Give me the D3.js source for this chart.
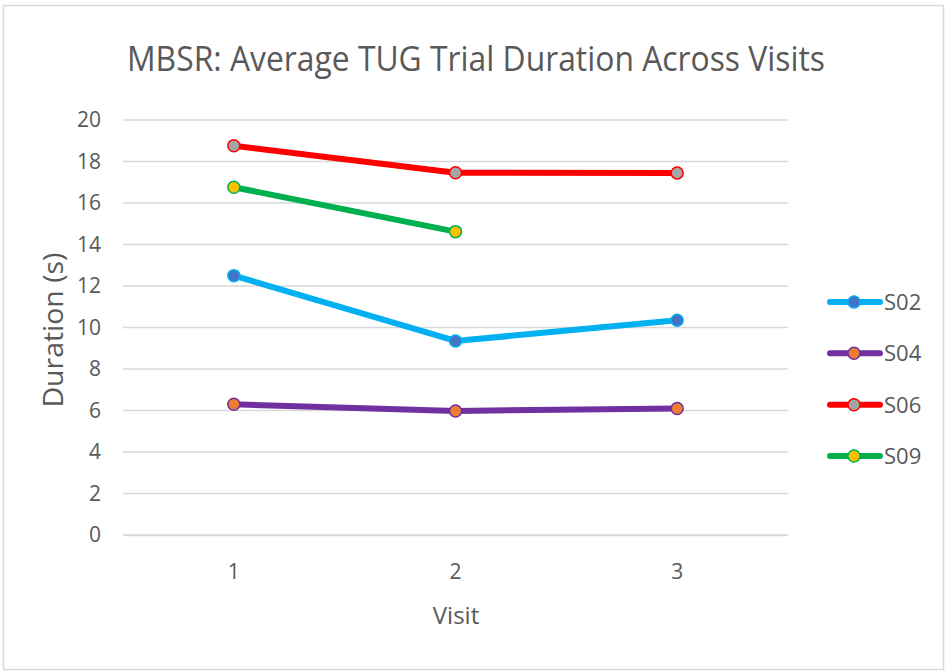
<!DOCTYPE html>
<html><head><meta charset="utf-8">
<script src="https://cdn.jsdelivr.net/npm/d3@7"></script>
<style>body{margin:0;background:#fff;}svg{display:block;font-family:"Open Sans",sans-serif;}</style>
</head><body><svg id="c" width="947" height="672"></svg>
<script>
const visits = ["1", "2", "3"];
const yTicks = [0, 2, 4, 6, 8, 10, 12, 14, 16, 18, 20];
const seriesNames = ["S02", "S04", "S06", "S09"];
const s02 = [12.5, 9.35, 10.35];
const s04 = [6.3, 5.98, 6.1];
const s06 = [18.76, 17.46, 17.45];
const s09 = [16.76, 14.62, null];
const lineColors = ["#00B0F0", "#7030A0", "#FF0000", "#00B050"];
const markerColors = ["#4472C4", "#ED7D31", "#A5A5A5", "#FFC000"];

const series = [s02, s04, s06, s09].map((vals, i) => ({
  name: seriesNames[i], line: lineColors[i], marker: markerColors[i],
  pts: vals.map((v, j) => ({x: visits[j], y: v})).filter(d => d.y != null)
}));

const svg = d3.select("#c");
svg.append("rect").attr("x", 3.5).attr("y", 5.5).attr("width", 940).attr("height", 664)
  .attr("fill", "#fff").attr("stroke", "#d9d9d9").attr("stroke-width", 1.5);

const x = d3.scaleBand().domain(visits).range([123, 788]);
const y = d3.scaleLinear().domain([0, 20]).range([535, 120]);

const grid = svg.append("g");
grid.selectAll("line").data(yTicks).join("line")
  .attr("x1", 123).attr("x2", 788)
  .attr("y1", d => y(d)).attr("y2", d => y(d))
  .attr("stroke", "#d9d9d9").attr("stroke-width", 1.5);

const yAxis = svg.append("g").attr("transform", "translate(123,0)")
  .call(d3.axisLeft(y).tickValues(yTicks).tickSize(0).tickPadding(22));
yAxis.select(".domain").remove();
yAxis.selectAll("text").attr("fill", "#595959").style("font-size", "21px").style("font-family", "Open Sans");

const xAxis = svg.append("g").attr("transform", "translate(0,535)")
  .call(d3.axisBottom(x).tickSize(0).tickPadding(29));
xAxis.select(".domain").attr("stroke", "#d9d9d9").attr("stroke-width", 1.5);
xAxis.selectAll("text").attr("fill", "#595959").style("font-size", "21px").style("font-family", "Open Sans");

const line = d3.line().x(d => x(d.x) + x.bandwidth() / 2).y(d => y(d.y));
series.forEach(s => {
  svg.append("path").datum(s.pts).attr("d", line).attr("fill", "none")
    .attr("stroke", s.line).attr("stroke-width", 6).attr("stroke-linejoin", "round");
  svg.selectAll(null).data(s.pts).join("circle")
    .attr("cx", d => x(d.x) + x.bandwidth() / 2).attr("cy", d => y(d.y)).attr("r", 6)
    .attr("fill", s.marker).attr("stroke", s.line).attr("stroke-width", 1.5);
});

svg.append("text").attr("x", 476).attr("y", 71).attr("text-anchor", "middle")
  .attr("fill", "#595959").style("font-size", "34px")
  .attr("textLength", 698).attr("lengthAdjust", "spacingAndGlyphs")
  .text("MBSR: Average TUG Trial Duration Across Visits");

svg.append("text").attr("transform", "translate(63,330) rotate(-90)").attr("text-anchor", "middle")
  .attr("fill", "#595959").style("font-size", "27px")
  .attr("textLength", 155).attr("lengthAdjust", "spacingAndGlyphs").text("Duration (s)");
svg.append("text").attr("x", 456).attr("y", 624).attr("text-anchor", "middle")
  .attr("fill", "#595959").style("font-size", "24px").text("Visit");

const legY = d3.scalePoint().domain(seriesNames).range([302, 456]);
const leg = svg.append("g");
series.forEach(s => {
  const g = leg.append("g").attr("transform", `translate(0,${legY(s.name)})`);
  g.append("line").attr("x1", 830).attr("x2", 880).attr("stroke", s.line).attr("stroke-width", 6).attr("stroke-linecap", "round");
  g.append("circle").attr("cx", 854).attr("r", 6).attr("fill", s.marker).attr("stroke", s.line).attr("stroke-width", 1.5);
  g.append("text").attr("x", 884).attr("y", 8).attr("fill", "#595959").style("font-size", "22px").text(s.name);
});
</script></body></html>
